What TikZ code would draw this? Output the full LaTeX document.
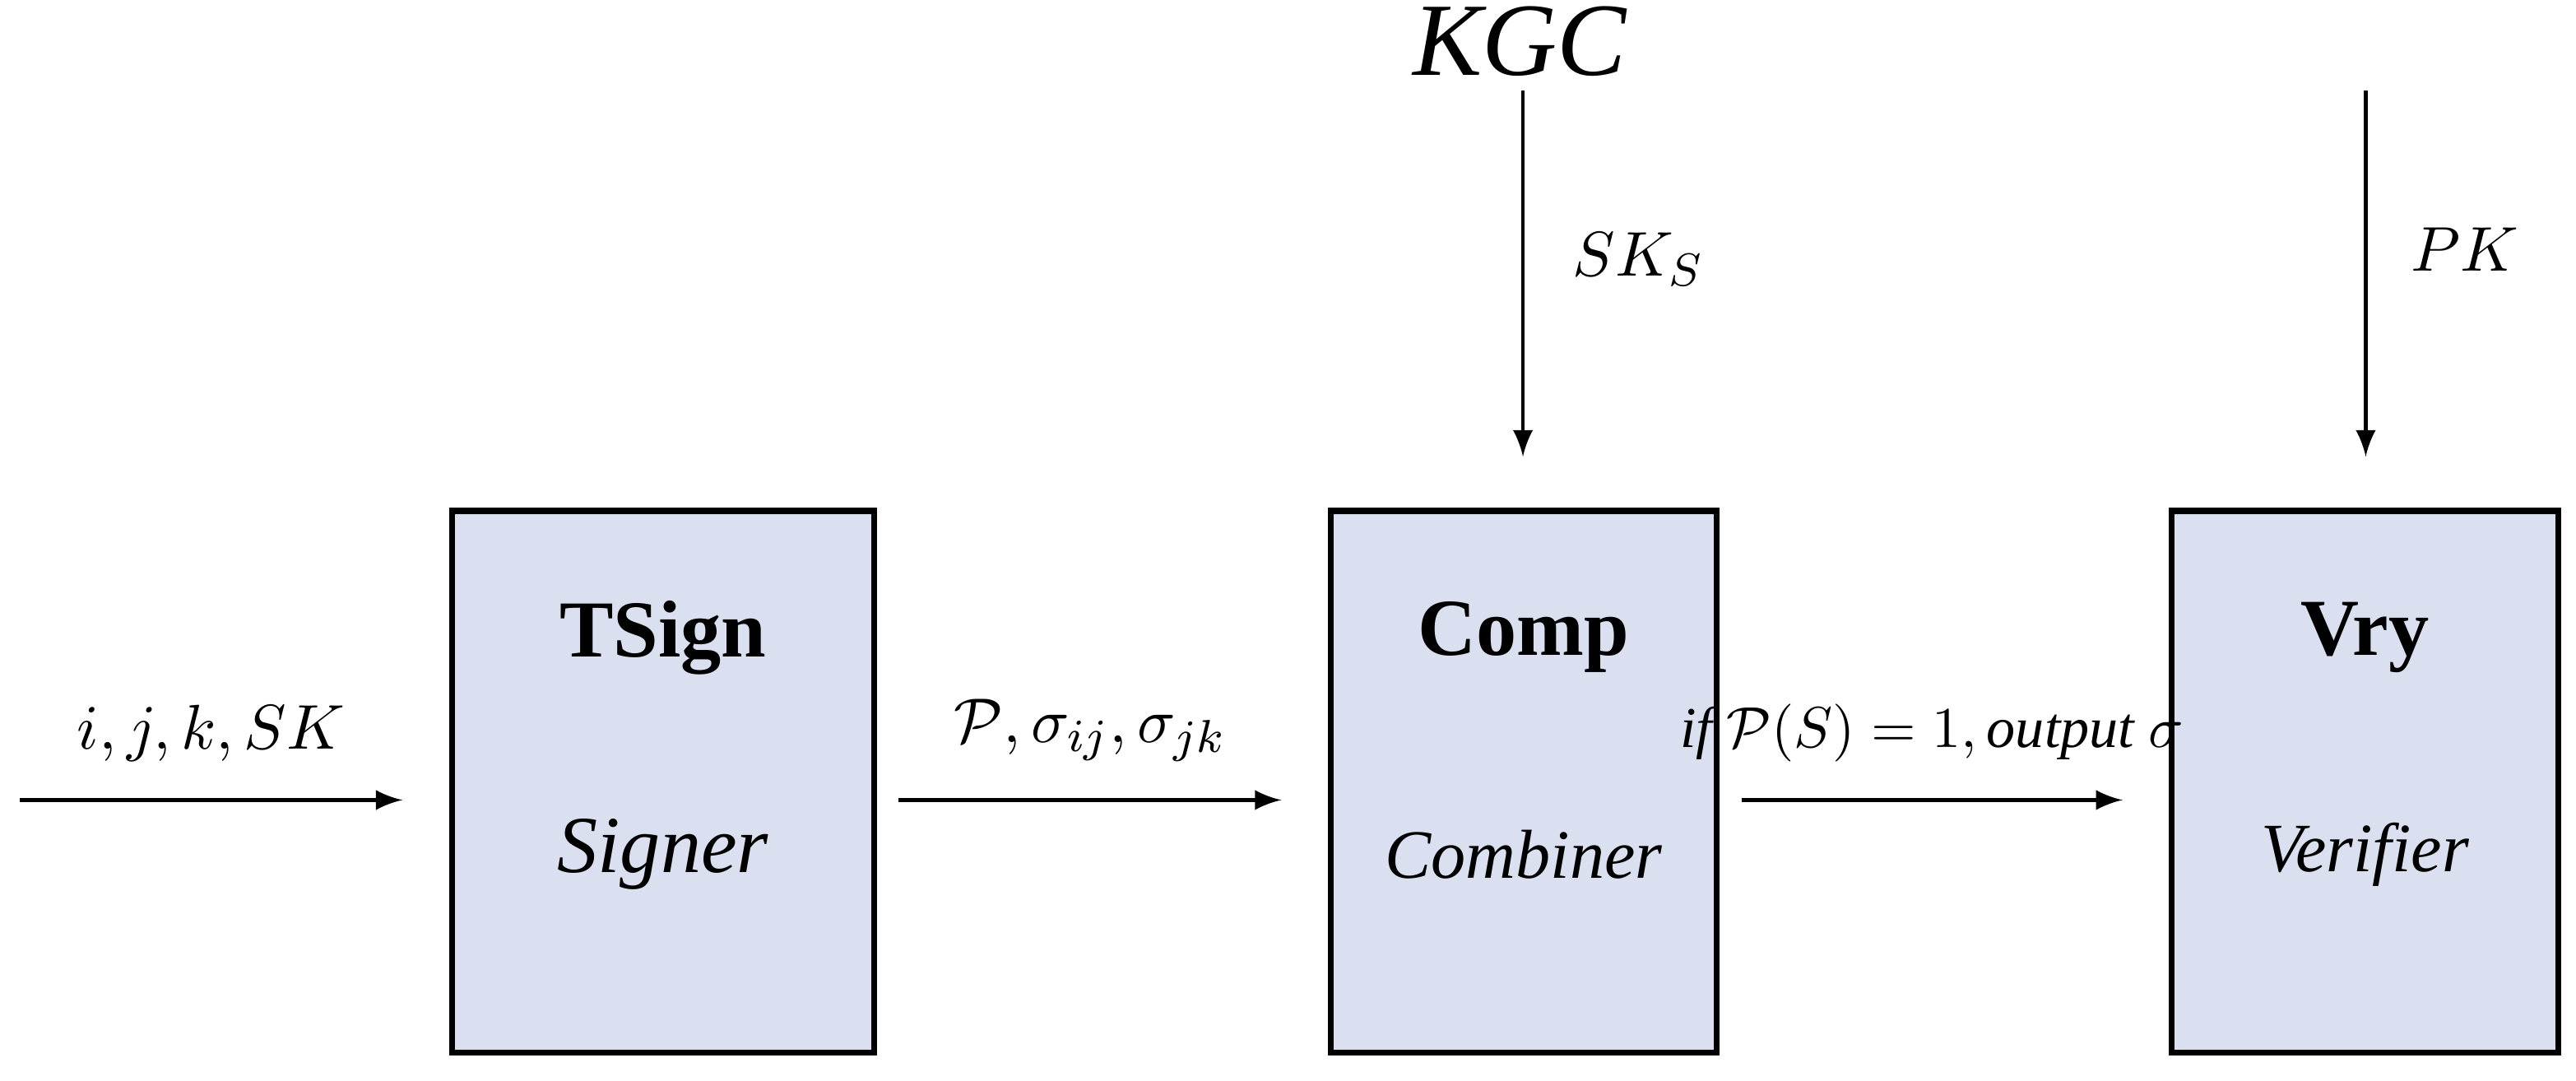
\documentclass[tikz,border=0pt]{standalone}
\usepackage{fontspec}
\setmainfont{Liberation Serif}
\usetikzlibrary{positioning}
\definecolor{boxblue}{HTML}{DAE0F0}
\tikzset{
  block/.style={draw, line width=1pt, fill=boxblue, minimum width=2.57cm, minimum height=3.3cm},
  flow/.style={->, >=latex, line width=0.6pt},
  lbl/.style={font=\fontsize{11}{13}\selectfont}
}
\begin{document}
\begin{tikzpicture}
  \useasboundingbox (0,0) rectangle (15.68,6.58);

  % boxes
  \node[block] (tsign) at (4.035,1.82) {};
  \node[block, minimum width=2.35cm] (comp) at (9.275,1.82) {};
  \node[block, minimum width=2.35cm] (vry) at (14.395,1.82) {};

  \node[font=\fontsize{14}{16}\selectfont\bfseries] at (4.035,2.70) {TSign};
  \node[font=\fontsize{14}{16}\selectfont\itshape] at (4.035,1.38) {Signer};
  \node[font=\fontsize{14}{16}\selectfont\bfseries] at (9.275,2.70) {Comp};
  \node[font=\fontsize{12}{14}\selectfont\itshape] at (9.275,1.38) {Combiner};
  \node[font=\fontsize{14}{16}\selectfont\bfseries] at (14.395,2.70) {Vry};
  \node[font=\fontsize{12}{14}\selectfont\itshape] at (14.395,1.38) {Verifier};

  % inputs
  \coordinate (in) at (0.12,1.71);
  \coordinate (tin) at (2.45,1.71);
  \coordinate (tout) at (5.47,1.71);
  \coordinate (cin) at (7.80,1.71);
  \coordinate (cout) at (10.60,1.71);
  \coordinate (vin) at (12.92,1.71);
  \node[font=\fontsize{18}{20}\selectfont\itshape] (kgc) at (9.25,6.33) {KGC};
  \coordinate (ks) at (9.27,6.03);
  \coordinate (ctop) at (9.27,3.80);
  \coordinate (pk) at (14.40,6.03);
  \coordinate (vtop) at (14.40,3.80);

  \draw[flow] (in) -- node[above=3pt, lbl] {$i,j,k,SK$} (tin);
  \draw[flow] (tout) -- node[above=3pt, lbl] {$\mathcal{P},\sigma_{ij},\sigma_{jk}$} (cin);
  \draw[flow] (cout) -- node[above=3pt, lbl, font=\fontsize{10}{12}\selectfont] {$\mathit{if}\ \mathcal{P}(S)=1,\mathit{output}\ \sigma$} (vin);
  \draw[flow] (ks) -- (ctop);
  \node[lbl, right] at (9.45,5.0) {$SK_S$};
  \draw[flow] (pk) -- (vtop);
  \node[lbl, right] at (14.55,5.06) {$PK$};
\end{tikzpicture}
\end{document}
